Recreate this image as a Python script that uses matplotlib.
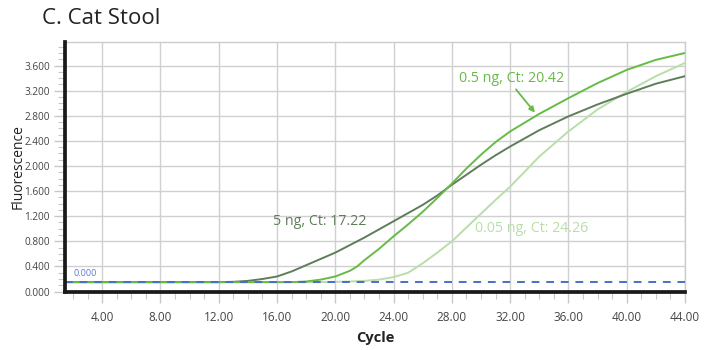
import matplotlib
matplotlib.use("Agg")
import matplotlib.pyplot as plt
from matplotlib.ticker import MultipleLocator, FormatStrFormatter

plt.rcParams['font.family'] = ['Open Sans', 'DejaVu Sans']

# qPCR amplification curves
cycles = [1, 4, 8, 12, 13, 14, 15, 16, 17, 18, 19, 20, 21, 21.5, 22, 23, 24,
          25, 26, 27, 28, 29, 30, 31, 32, 34, 36, 38, 40, 42, 44]
ng5 = [0.15, 0.15, 0.15, 0.15, 0.155, 0.17, 0.20, 0.24, 0.32, 0.42, 0.52, 0.62,
       0.74, 0.80, 0.86, 0.99, 1.12, 1.25, 1.38, 1.53, 1.70, 1.86, 2.02, 2.17,
       2.31, 2.57, 2.79, 2.98, 3.15, 3.31, 3.43]
ng05 = [0.15, 0.15, 0.15, 0.15, 0.15, 0.15, 0.15, 0.15, 0.15, 0.16, 0.19, 0.24,
        0.33, 0.40, 0.50, 0.68, 0.88, 1.07, 1.27, 1.49, 1.72, 1.96, 2.18, 2.38,
        2.55, 2.83, 3.08, 3.32, 3.53, 3.69, 3.80]
ng005 = [0.15, 0.15, 0.15, 0.15, 0.15, 0.15, 0.15, 0.15, 0.15, 0.15, 0.15, 0.155,
         0.16, 0.165, 0.17, 0.19, 0.23, 0.30, 0.45, 0.62, 0.80, 1.02, 1.24, 1.46,
         1.67, 2.15, 2.55, 2.90, 3.18, 3.43, 3.64]
threshold = 0.15

dark = '#5e7d5a'
mid = '#66bb46'
light = '#b9dea9'

fig = plt.figure(figsize=(7.15, 3.5), dpi=100)
ax = fig.add_axes([0.091, 0.167, 0.867, 0.714])

ax.plot(cycles, ng005, color=light, lw=1.4, zorder=3)
ax.plot(cycles, ng5, color=dark, lw=1.4, zorder=4)
ax.plot(cycles, ng05, color=mid, lw=1.4, zorder=5)
ax.axhline(threshold, color='#4a6fc4', lw=1.4, ls=(0, (4, 3.5)), zorder=6)
ax.text(2.0, 0.22, '0.000', color='#5b7bd0', fontsize=6.5, va='bottom')

ax.text(15.7, 1.11, '5 ng, Ct: 17.22', color=dark, fontsize=10.3, va='center')
ax.text(28.5, 3.40, '0.5 ng, Ct: 20.42', color=mid, fontsize=10.3, va='center')
ax.text(29.6, 1.01, '0.05 ng, Ct: 24.26', color=light, fontsize=10.3, va='center')
ax.annotate('', xy=(33.7, 2.85), xytext=(32.4, 3.22),
            arrowprops=dict(arrowstyle='-|>', color=mid, lw=1.3,
                            mutation_scale=8, shrinkA=0, shrinkB=0))

ax.set_xlim(1.45, 44)
ax.set_ylim(0, 3.98)
ax.xaxis.set_major_locator(MultipleLocator(4))
ax.xaxis.set_minor_locator(MultipleLocator(1))
ax.yaxis.set_major_locator(MultipleLocator(0.4))
ax.yaxis.set_minor_locator(MultipleLocator(0.1))
ax.xaxis.set_major_formatter(FormatStrFormatter('%.2f'))
ax.yaxis.set_major_formatter(FormatStrFormatter('%.3f'))

ax.grid(True, which='major', color='#d0d0d0', lw=1.0, zorder=0)
ax.tick_params(which='major', length=8, color='#c8c8c8', width=1.0,
               labelcolor='#444444', pad=3)
ax.tick_params(which='minor', length=5, color='#c8c8c8', width=0.8)
ax.tick_params(axis='x', which='major', labelsize=8.5, pad=6)
ax.tick_params(axis='y', which='major', labelsize=7.2)

for s in ['top', 'right']:
    ax.spines[s].set_color('#cccccc')
    ax.spines[s].set_linewidth(1.0)
for s in ['left', 'bottom']:
    ax.spines[s].set_color('#1a1a1a')
    ax.spines[s].set_linewidth(2.7)
    ax.spines[s].set_zorder(7)

ax.set_xlabel('Cycle', fontsize=10.5, fontweight='bold', color='#222222', labelpad=5)
ax.set_ylabel('Fluorescence', fontsize=10, color='#222222')
ax.yaxis.set_label_coords(-0.063, 0.5)
fig.text(0.059, 0.93, 'C. Cat Stool', fontsize=16, color='#222222')

fig.savefig('out.png', dpi=100)
